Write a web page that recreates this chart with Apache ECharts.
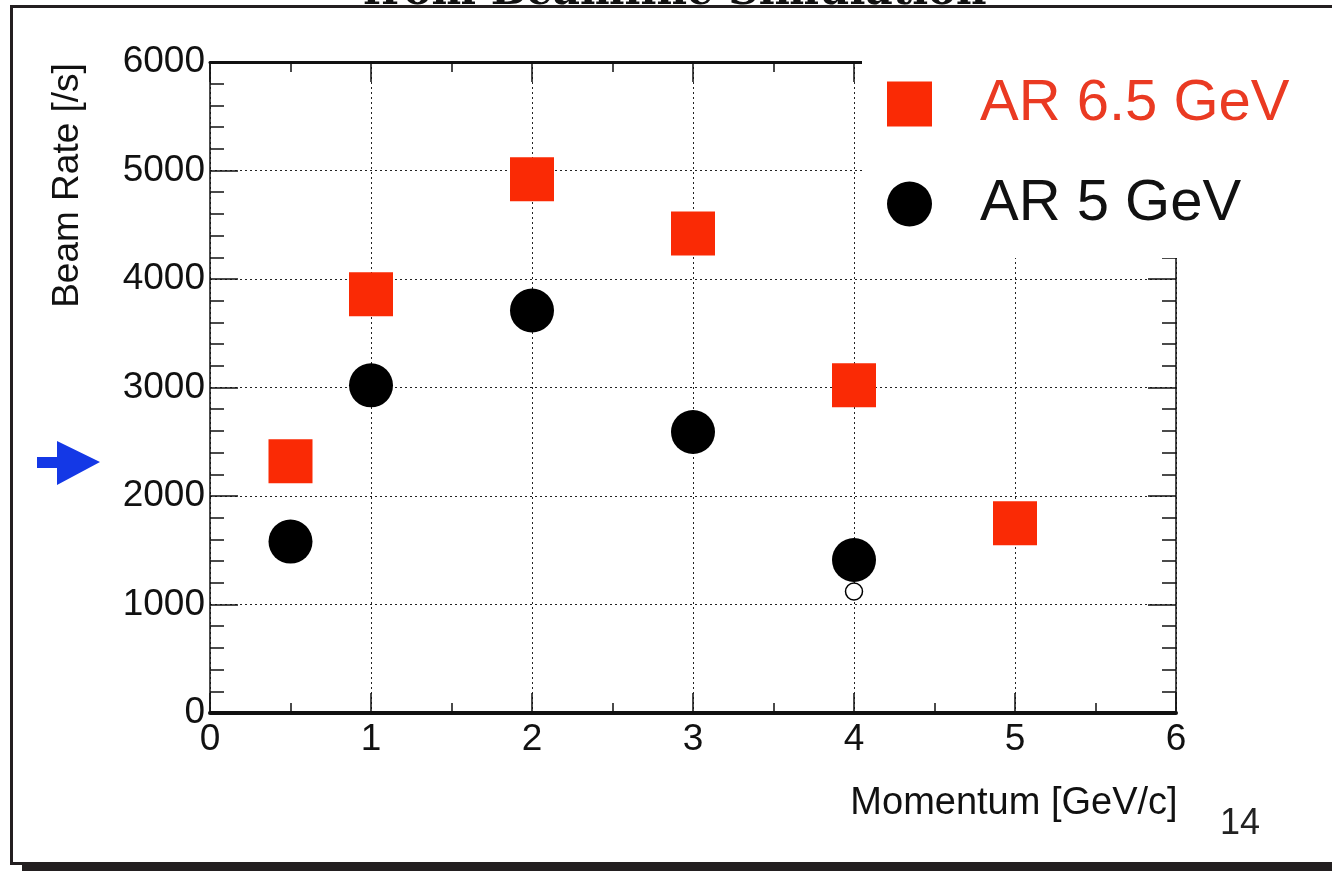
<!DOCTYPE html>
<html>
<head>
<meta charset="utf-8">
<script src="https://cdn.jsdelivr.net/npm/echarts@6/dist/echarts.min.js"></script>
<style>html,body{margin:0;padding:0;background:#fff;}#c{width:1332px;height:871px;}</style>
</head>
<body>
<div id="c"></div>
<script>
// ---- data ----
const momentum65 = [0.5, 1, 2, 3, 4, 5];
const rate65 = [2320, 3860, 4920, 4420, 3020, 1750];
const momentum5 = [0.5, 1, 2, 3, 4];
const rate5 = [1580, 3020, 3710, 2590, 1410];
const momentumOpen = [4];
const rateOpen = [1120];
const seriesNames = ['AR 6.5 GeV', 'AR 5 GeV'];
const xTicks = [0, 1, 2, 3, 4, 5, 6];
const yTicks = [0, 1000, 2000, 3000, 4000, 5000, 6000];
const titleText = 'from Beamline Simulation';
const xName = 'Momentum [GeV/c]';
const yName = 'Beam Rate [/s]';
const pageNumber = '14';

const pair = (xs, ys) => xs.map((x, i) => [x, ys[i]]);
const FONT = 'Liberation Sans, Arial, sans-serif';
const RED = '#fa2a05';
const DARK = '#231f20';

const chart = echarts.init(document.getElementById('c'), null, {renderer: 'canvas'});

const gridLine = {show: true, lineStyle: {color: '#222', width: 1, type: [2, 3]}};
const tickStyle = {color: '#111', width: 1.5};

chart.setOption({
  animation: false,
  backgroundColor: '#fff',
  grid: {left: 210, right: 156, top: 62, bottom: 158, containLabel: false},
  xAxis: [{
    type: 'value', position: 'bottom',
    min: xTicks[0], max: xTicks[xTicks.length - 1], interval: 1,
    name: xName, nameLocation: 'middle', nameGap: 72,
    nameTextStyle: {fontFamily: FONT, fontSize: 38, color: '#111', padding: [0, 0, 0, 642]},
    axisLine: {show: true, onZero: false, lineStyle: {color: '#111', width: 4}},
    axisTick: {show: true, inside: true, length: 20, lineStyle: tickStyle},
    minorTick: {show: true, splitNumber: 2, length: 10, lineStyle: tickStyle},
    axisLabel: {show: true, margin: 8, fontFamily: FONT, fontSize: 37, color: '#111',
      formatter: v => String(v)},
    splitLine: gridLine
  }, {
    type: 'value', position: 'top',
    min: xTicks[0], max: xTicks[xTicks.length - 1], interval: 1,
    axisLine: {show: true, onZero: false, lineStyle: {color: '#111', width: 3}},
    axisTick: {show: true, inside: true, length: 20, lineStyle: tickStyle},
    minorTick: {show: true, splitNumber: 2, length: 10, lineStyle: tickStyle},
    axisLabel: {show: false},
    splitLine: {show: false}
  }],
  yAxis: [{
    type: 'value', position: 'left',
    min: yTicks[0], max: yTicks[yTicks.length - 1], interval: 1000,
    name: yName, nameLocation: 'middle', nameGap: 124, nameRotate: 90,
    nameTextStyle: {fontFamily: FONT, fontSize: 37, color: '#111', padding: [0, 0, 0, 404]},
    axisLine: {show: true, onZero: false, lineStyle: {color: '#111', width: 1.5}},
    axisTick: {show: true, inside: true, length: 28, lineStyle: tickStyle},
    minorTick: {show: true, splitNumber: 5, length: 14, lineStyle: tickStyle},
    axisLabel: {show: true, margin: 5, fontFamily: FONT, fontSize: 37, color: '#111',
      formatter: v => String(v)},
    splitLine: gridLine
  }, {
    type: 'value', position: 'right',
    min: yTicks[0], max: yTicks[yTicks.length - 1], interval: 1000,
    axisLine: {show: true, onZero: false, lineStyle: {color: '#111', width: 1.5}},
    axisTick: {show: true, inside: true, length: 28, lineStyle: tickStyle},
    minorTick: {show: true, splitNumber: 5, length: 14, lineStyle: tickStyle},
    axisLabel: {show: false},
    splitLine: {show: false}
  }],
  legend: {
    orient: 'vertical', left: 862, top: 30,
    padding: [45, 43, 25, 25],
    backgroundColor: '#fff',
    itemWidth: 45, itemHeight: 45, itemGap: 42,
    z: 10,
    data: [
      {name: seriesNames[0], icon: 'rect', textStyle: {color: '#ea3a22'}},
      {name: seriesNames[1], icon: 'circle', textStyle: {color: '#111'}}
    ],
    textStyle: {fontFamily: FONT, fontSize: 58, lineHeight: 45, padding: [0, 0, 0, 43]}
  },
  series: [{
    name: seriesNames[0], type: 'scatter', symbol: 'rect', symbolSize: 44,
    itemStyle: {color: RED, opacity: 1},
    data: pair(momentum65, rate65), z: 3
  }, {
    name: seriesNames[1], type: 'scatter', symbol: 'circle', symbolSize: 44,
    itemStyle: {color: '#000', opacity: 1},
    data: pair(momentum5, rate5), z: 3
  }, {
    name: 'open', type: 'scatter', symbol: 'circle', symbolSize: 17,
    itemStyle: {color: '#fff', borderColor: '#000', borderWidth: 1.5, opacity: 1},
    data: pair(momentumOpen, rateOpen), z: 2
  }],
  graphic: [
    {type: 'text', x: 675, y: 14, z: 20, style: {text: titleText, font: 'bold 42px "DejaVu Serif", serif', fill: '#111', textAlign: 'center', textVerticalAlign: 'bottom'}},
    {type: 'rect', z: 20, shape: {x: 10, y: 5, width: 1322, height: 3}, style: {fill: DARK}},
    {type: 'rect', z: 20, shape: {x: 10, y: 5, width: 3, height: 860}, style: {fill: DARK}},
    {type: 'rect', z: 20, shape: {x: 10, y: 862, width: 14, height: 3}, style: {fill: DARK}},
    {type: 'rect', z: 20, shape: {x: 22, y: 862, width: 1310, height: 9}, style: {fill: DARK}},
    {type: 'polygon', z: 20, shape: {points: [[37, 457], [57, 457], [57, 441], [100, 462], [57, 485], [57, 468], [37, 468]]}, style: {fill: '#1438e6'}},
    {type: 'text', x: 1220, y: 806, z: 20, style: {text: pageNumber, font: '36px "Liberation Sans", Arial, sans-serif', fill: '#222'}}
  ]
});
</script>
</body>
</html>
